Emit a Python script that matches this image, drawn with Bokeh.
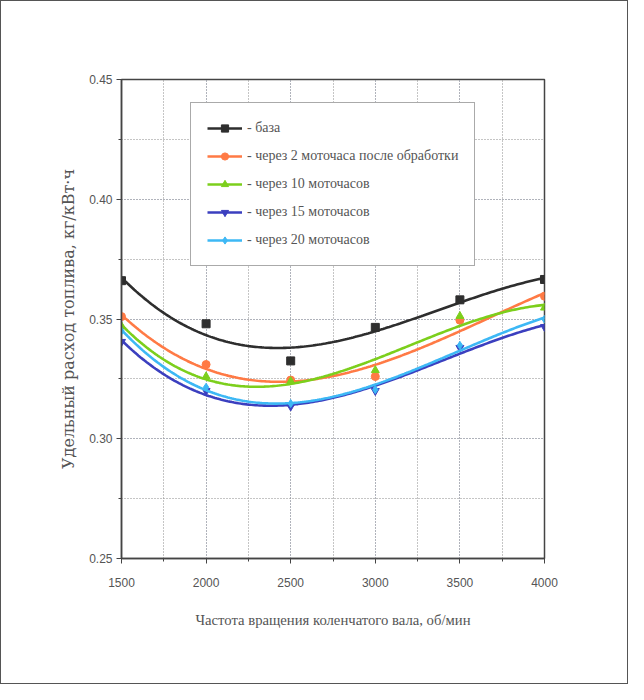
import numpy as np
from bokeh.plotting import figure
from bokeh.models import SingleIntervalTicker, NumeralTickFormatter, Range1d
from bokeh.embed import file_html
from bokeh.resources import INLINE

# ---- data ----
rpm = [1500, 2000, 2500, 3000, 3500, 4000]
baza = [0.366, 0.348, 0.3325, 0.3465, 0.358, 0.3665]
h2 = [0.351, 0.331, 0.3245, 0.326, 0.3495, 0.3595]
h10 = [0.347, 0.326, 0.324, 0.3286, 0.3512, 0.3547]
h15 = [0.3405, 0.320, 0.3135, 0.320, 0.338, 0.3467]
h20 = [0.345, 0.3215, 0.3147, 0.3205, 0.339, 0.3499]

labels = ["- база",
          "- через 2 моточаса после обработки",
          "- через 10 моточасов",
          "- через 15 моточасов",
          "- через 20 моточасов"]
series = [baza, h2, h10, h15, h20]
colors = ["#2e2e2e", "#ff7a45", "#7ccf1c", "#3b3fbf", "#3db8f5"]
markers = ["square", "circle", "triangle", "inverted_triangle", "diamond"]

x_title = "Частота вращения коленчатого вала, об/мин"
y_title = "Удельный расход топлива, кг/кВт·ч"

p = figure(width=628, height=684, output_backend="svg", toolbar_location=None,
           x_range=Range1d(1500, 4000), y_range=Range1d(0.25, 0.45),
           min_border_left=120, min_border_right=85, min_border_top=78,
           min_border_bottom=127)
p.styles = {"border": "1px solid #555"}

p.outline_line_color = "#444"
p.outline_line_width = 1.5

xs = np.linspace(rpm[0], rpm[-1], 200)
for ys, lab, col, mk in zip(series, labels, colors, markers):
    coef = np.polyfit(np.array(rpm, dtype=float), np.array(ys), 3)
    p.line(xs, np.polyval(coef, xs), line_color=col, line_width=2.6, legend_label=lab)
    p.scatter(rpm, ys, marker=mk, size=8, fill_color=col, line_color=col, legend_label=lab)

# axes
p.xaxis.ticker = SingleIntervalTicker(interval=500, num_minor_ticks=2)
p.yaxis.ticker = SingleIntervalTicker(interval=0.05, num_minor_ticks=2)
p.yaxis.formatter = NumeralTickFormatter(format="0.00")
for ax in (p.xaxis[0], p.yaxis[0]):
    ax.axis_line_color = "#444"
    ax.axis_line_width = 1.5
    ax.major_tick_line_color = "#444"
    ax.minor_tick_line_color = "#444"
    ax.major_tick_out = 5
    ax.major_tick_in = 0
    ax.minor_tick_out = 3
    ax.minor_tick_in = 0
    ax.major_label_text_font = "'Liberation Sans Narrow', 'Liberation Sans', sans-serif"
    ax.major_label_text_font_size = "12px"
    ax.major_label_text_color = "#555"
    ax.axis_label_text_font_style = "normal"
    ax.axis_label_text_color = "#555"

p.xaxis.axis_label = x_title
p.xaxis.axis_label_text_font = "Liberation Serif"
p.xaxis.axis_label_text_font_size = "14.7px"
p.xaxis.major_label_standoff = 14
p.xaxis.axis_label_standoff = 22

p.yaxis.axis_label = y_title
p.yaxis.axis_label_text_font = "DejaVu Serif"
p.yaxis.axis_label_text_font_size = "16px"
p.yaxis.major_label_standoff = 4
p.yaxis.axis_label_standoff = 8

# grid
for g in (p.xgrid[0], p.ygrid[0]):
    g.grid_line_color = "#9aa0b0"
    g.grid_line_dash = "1 2"
    g.grid_line_width = 1
    g.minor_grid_line_color = "#8a8a8a"
    g.minor_grid_line_dash = "1 2"
    g.minor_grid_line_width = 1

# legend
lg = p.legend[0]
lg.location = (69, 292)
lg.border_line_color = "#555"
lg.border_line_width = 1.5
lg.background_fill_color = "white"
lg.background_fill_alpha = 1
lg.label_text_font = "Liberation Serif"
lg.label_text_font_size = "14px"
lg.label_text_color = "#555"
lg.glyph_width = 35
lg.label_standoff = 5
lg.padding = 16
lg.spacing = 10
lg.label_height = 18
lg.glyph_height = 18
lg.margin = 0

open("out.html", "w").write(file_html(p, INLINE))
